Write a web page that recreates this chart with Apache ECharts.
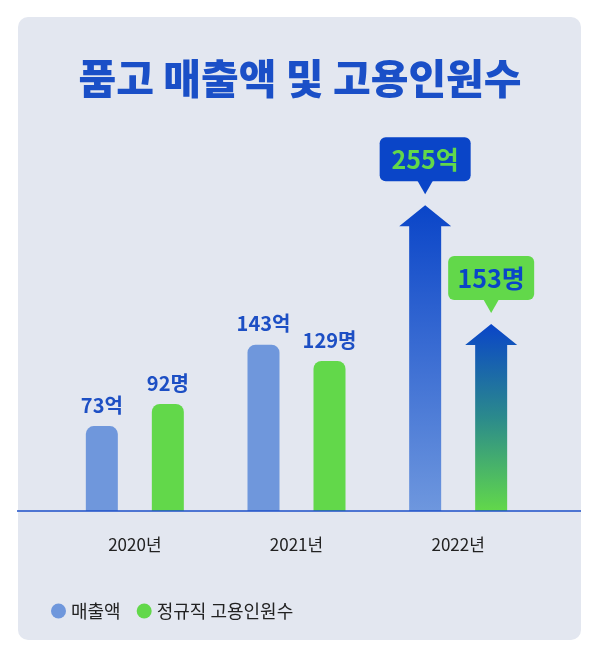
<!DOCTYPE html><html><head><meta charset="utf-8"><script src="https://cdn.jsdelivr.net/npm/echarts@6/dist/echarts.min.js"></script>
<style>html,body{margin:0;background:#fff}#c{width:600px;height:659px}</style></head><body><div id="c"></div><script>
const categories=['2020년','2021년','2022년'];
const sales=[73,143,255];
const staff=[92,129,153];
const salesLabels=['73억','143억','255억'];
const staffLabels=['92명','129명','153명'];
const FONT='"Noto Sans CJK KR", sans-serif';
const BLUE='#1d4fc4';
function rItem(kind){
  return function(params,api){
    const i=params.dataIndex, v=api.value(1);
    const off=kind===0?-33:33;
    const top=api.coord([i,v]), base=api.coord([i,0]);
    const x=top[0]+off, w=32;
    const lab=(kind===0?salesLabels:staffLabels)[i];
    if(i<2){
      return {type:'group',children:[
        {type:'rect',shape:{x:x-w/2,y:top[1],width:w,height:base[1]-top[1],r:[8,8,0,0]},style:{fill:kind===0?'#6f97dc':'#62d84a'}},
        {type:'text',style:{text:lab,x:x,y:top[1]-11,align:'center',verticalAlign:'bottom',fill:BLUE,font:'bold 20px '+FONT}}
      ]};
    }
    const tip=top[1]-9, hb=tip+21;
    const grad=kind===0?new echarts.graphic.LinearGradient(0,0,0,1,[{offset:0,color:'#0a45c8'},{offset:1,color:'#6e97de'}])
      :new echarts.graphic.LinearGradient(0,0,0,1,[{offset:0,color:'#0a45c8'},{offset:0.5,color:'#2b8a8c'},{offset:1,color:'#62d84a'}]);
    const boxFill=kind===0?'#0a45c8':'#62d84a', txt=kind===0?'#62d84a':'#0a45c8';
    const bw=kind===0?91:86, bh=44, pt=tip-11, bb=pt-13;
    return {type:'group',children:[
      {type:'polygon',shape:{points:[[x-16,base[1]],[x-16,hb],[x-26,hb],[x,tip],[x+26,hb],[x+16,hb],[x+16,base[1]]]},style:{fill:grad}},
      {type:'rect',shape:{x:x-bw/2,y:bb-bh,width:bw,height:bh,r:6},style:{fill:boxFill}},
      {type:'polygon',shape:{points:[[x-8,bb-1],[x+8,bb-1],[x,pt]]},style:{fill:boxFill}},
      {type:'text',style:{text:lab,x:x,y:bb-bh/2,align:'center',verticalAlign:'middle',fill:txt,font:'bold 25px '+FONT}}
    ]};
  };
}
const chart=echarts.init(document.getElementById('c'));
chart.setOption({
  animation:false,
  graphic:[
    {type:'rect',z:-10,shape:{x:18,y:17,width:563,height:623,r:10},style:{fill:'#e3e7f0'}},
    {type:'line',z:100,shape:{x1:17,y1:511,x2:581,y2:511},style:{stroke:'#1c4fc8',lineWidth:1.3}},
    {type:'text',style:{text:'품고 매출액 및 고용인원수',x:300,y:78,align:'center',verticalAlign:'middle',fill:'#1a4fc7',font:'900 41px '+FONT}}
  ],
  legend:{left:46,top:597,itemWidth:15,itemHeight:15,itemGap:16,icon:'circle',textStyle:{fontSize:18,color:'#222',fontFamily:FONT},
    data:[{name:'매출액',itemStyle:{color:'#6f97dc'}},{name:'정규직 고용인원수',itemStyle:{color:'#62d84a'}}]},
  grid:{left:54,right:61,top:162,bottom:148},
  xAxis:{type:'category',data:categories,axisLine:{show:false},axisTick:{show:false},axisLabel:{margin:25,fontSize:17,color:'#222',fontFamily:FONT}},
  yAxis:{type:'value',min:0,max:300,show:false,splitLine:{show:false}},
  series:[
    {name:'매출액',type:'custom',renderItem:rItem(0),itemStyle:{color:'#6f97dc'},data:sales.map((v,i)=>[i,v])},
    {name:'정규직 고용인원수',type:'custom',renderItem:rItem(1),itemStyle:{color:'#62d84a'},data:staff.map((v,i)=>[i,v])}
  ]
});
</script></body></html>
